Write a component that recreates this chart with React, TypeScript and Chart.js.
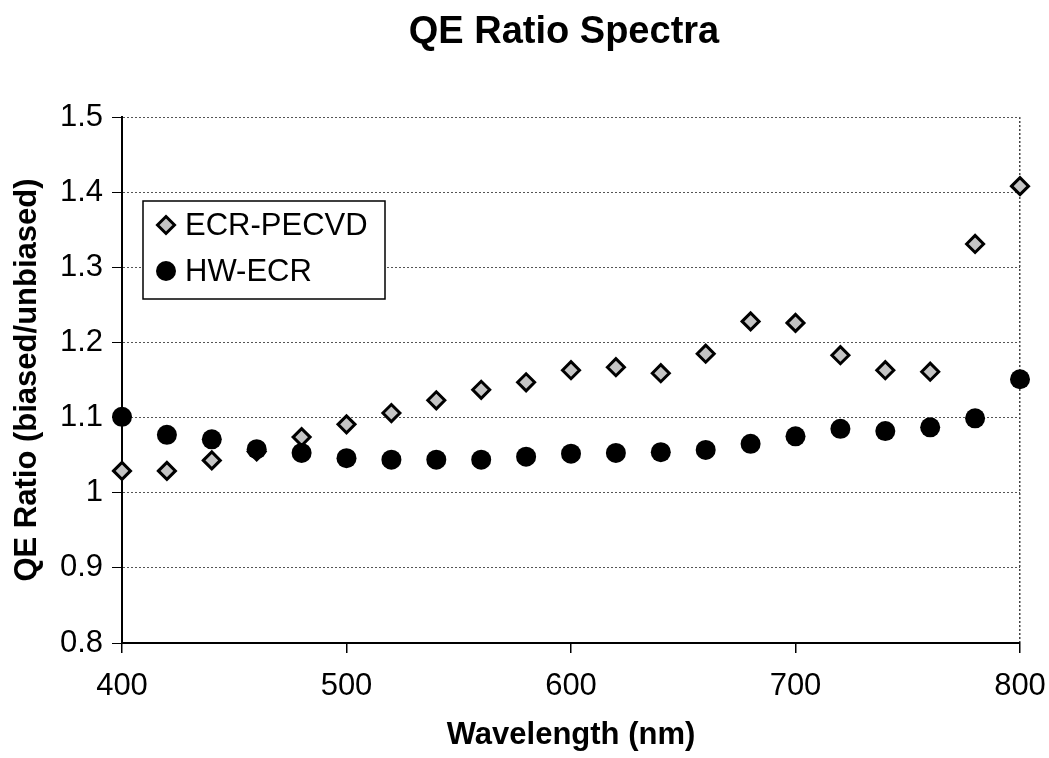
import React, { useEffect, useRef } from "react";
import { Chart, registerables } from "chart.js";

Chart.register(...registerables);

const wavelengths = [400, 420, 440, 460, 480, 500, 520, 540, 560, 580, 600, 620, 640, 660, 680, 700, 720, 740, 760, 780, 800];
const ecrPecvd = [1.029, 1.029, 1.043, 1.055, 1.074, 1.091, 1.106, 1.123, 1.137, 1.147, 1.163, 1.167, 1.159, 1.185, 1.228, 1.226, 1.183, 1.163, 1.161, 1.331, 1.408];
const hwEcr = [1.101, 1.077, 1.071, 1.058, 1.053, 1.046, 1.044, 1.044, 1.044, 1.048, 1.052, 1.053, 1.054, 1.057, 1.065, 1.075, 1.085, 1.082, 1.087, 1.099, 1.151];

const seriesNames = ["ECR-PECVD", "HW-ECR"];
const chartTitle = "QE Ratio Spectra";
const xTitle = "Wavelength (nm)";
const yTitle = "QE Ratio (biased/unbiased)";
const xMin = 400, xMax = 800, xStep = 100;
const yMin = 0.8, yMax = 1.5, yStep = 0.1;

const FONT = "'Liberation Sans', Arial, Helvetica, sans-serif";

const titlePlugin = {
  id: "customTitle",
  afterDraw(chart: any) {
    const ctx = chart.ctx;
    ctx.save();
    ctx.font = `bold 38px ${FONT}`;
    ctx.fillStyle = "#000";
    ctx.textAlign = "center";
    ctx.textBaseline = "middle";
    ctx.fillText(chartTitle, 564, 33);
    ctx.restore();
  },
};

const legendPlugin = {
  id: "boxLegend",
  afterDatasetsDraw(chart: any) {
    const ctx = chart.ctx;
    const a = chart.chartArea;
    const left = a.left + 21;
    const top = a.top + 84;
    const w = 242;
    const h = 98;
    ctx.save();
    ctx.fillStyle = "#fff";
    ctx.fillRect(left, top, w, h);
    ctx.lineWidth = 1.5;
    ctx.strokeStyle = "#000";
    ctx.strokeRect(left, top, w, h);
    const rows = [top + 24, top + 70];
    chart.data.datasets.forEach((ds: any, i: number) => {
      const y = rows[i];
      const x = left + 23;
      ctx.fillStyle = ds.pointBackgroundColor;
      ctx.strokeStyle = ds.pointBorderColor;
      ctx.lineWidth = ds.pointBorderWidth;
      const r = ds.pointRadius;
      ctx.beginPath();
      if (ds.pointStyle === "circle") {
        ctx.arc(x, y, r, 0, Math.PI * 2);
      } else {
        ctx.moveTo(x, y - r); ctx.lineTo(x + r, y); ctx.lineTo(x, y + r); ctx.lineTo(x - r, y); ctx.closePath();
      }
      ctx.fill();
      if (ds.pointBorderWidth > 0) ctx.stroke();
      ctx.fillStyle = "#000";
      ctx.font = `31px ${FONT}`;
      ctx.textAlign = "left";
      ctx.textBaseline = "middle";
      ctx.fillText(ds.label, left + 42, y + 1);
    });
    ctx.restore();
  },
};

export default function App() {
  const ref = useRef<HTMLCanvasElement | null>(null);
  useEffect(() => {
    if (!ref.current) return;
    const chart = new Chart(ref.current, {
      type: "scatter",
      data: {
        datasets: [
          {
            label: seriesNames[0],
            data: wavelengths.map((x, i) => ({ x, y: ecrPecvd[i] })),
            pointStyle: "rectRot",
            pointRadius: 8.5,
            pointBackgroundColor: "#c4c4c4",
            pointBorderColor: "#000",
            pointBorderWidth: 3,
            clip: false,
            order: 1,
          } as any,
          {
            label: seriesNames[1],
            data: wavelengths.map((x, i) => ({ x, y: hwEcr[i] })),
            pointStyle: "circle",
            pointRadius: 10,
            pointBackgroundColor: "#000",
            pointBorderColor: "#000",
            pointBorderWidth: 0,
            clip: false,
            order: 0,
          } as any,
        ],
      },
      options: {
        animation: false,
        responsive: true,
        maintainAspectRatio: false,
        layout: { padding: { top: 117, right: 29, bottom: 0, left: 0 } },
        plugins: {
          legend: { display: false },
          title: { display: false },
          tooltip: { enabled: false },
        },
        scales: {
          x: {
            type: "linear",
            min: xMin,
            max: xMax,
            ticks: {
              stepSize: xStep,
              color: "#000",
              font: { family: FONT, size: 31 },
              padding: 15,
              maxRotation: 0,
            },
            grid: {
              color: (c: any) => (c.tick && c.tick.value === xMax ? "#444" : "transparent"),
              tickColor: "#000",
              tickLength: 10,
              lineWidth: 1.5,
            },
            border: { display: true, color: "#000", width: 2, dash: [2, 2] },
            title: {
              display: true,
              text: xTitle,
              color: "#000",
              font: { family: FONT, size: 31, weight: "bold" },
              padding: { top: 4, bottom: 4 },
            },
            afterFit: (s: any) => {
              s.height = 115;
              s.paddingLeft = 0;
              s.paddingRight = 0;
            },
          },
          y: {
            type: "linear",
            min: yMin,
            max: yMax,
            ticks: {
              stepSize: yStep,
              color: "#000",
              font: { family: FONT, size: 31 },
              padding: 9,
              callback: (v: any) => String(Math.round(Number(v) * 10) / 10),
            },
            grid: {
              color: "#555",
              tickColor: "#000",
              tickLength: 10,
              lineWidth: 1,
            },
            border: { display: true, color: "#000", width: 2, dash: [2, 2] },
            title: {
              display: true,
              text: yTitle,
              color: "#000",
              font: { family: FONT, size: 31, weight: "bold" },
              padding: { top: 9, bottom: 4 },
            },
            afterFit: (s: any) => { s.width = 122; },
          },
        },
      },
      plugins: [titlePlugin, legendPlugin],
    });
    return () => chart.destroy();
  }, []);
  return (
    <div style={{ position: "absolute", left: 0, top: 0, width: 1049, height: 758, background: "#fff" }}>
      <canvas ref={ref} />
    </div>
  );
}
